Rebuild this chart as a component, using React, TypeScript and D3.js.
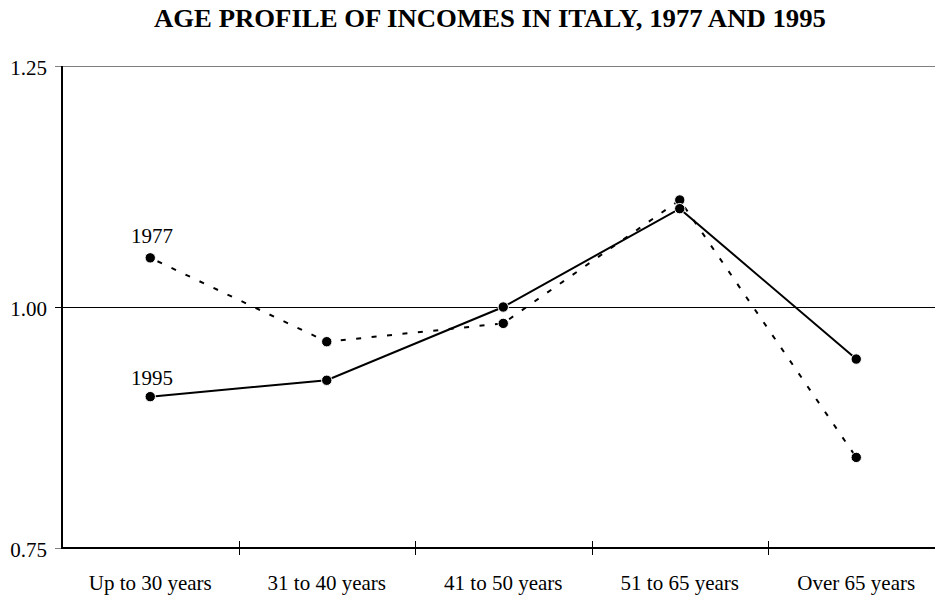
import React, { useEffect, useRef } from "react";
import * as d3 from "d3";

const categories = ["Up to 30 years", "31 to 40 years", "41 to 50 years", "51 to 65 years", "Over 65 years"];
const values1977 = [1.051, 0.964, 0.983, 1.111, 0.844];
const values1995 = [0.907, 0.924, 1.0, 1.102, 0.946];
const yTicks = [0.75, 1.0, 1.25];
const title = "AGE PROFILE OF INCOMES IN ITALY, 1977 AND 1995";

const W = 935;
const H = 595;
const FONT = "'Liberation Serif', 'Times New Roman', serif";

export default function App() {
  const ref = useRef<SVGSVGElement | null>(null);

  useEffect(() => {
    const svg = d3.select(ref.current);
    svg.selectAll("*").remove();

    const left = 62, right = 944.5, top = 66, bottom = 548;
    const x = d3.scaleBand<string>().domain(categories).range([left, right]).padding(0);
    const y = d3.scaleLinear().domain([0.75, 1.25]).range([bottom, top]);
    const cx = (c: string) => (x(c) as number) + x.bandwidth() / 2;

    svg.append("text")
      .attr("x", 490).attr("y", 27)
      .attr("text-anchor", "middle")
      .attr("font-family", FONT).attr("font-weight", "bold").attr("font-size", 26)
      .attr("textLength", 672).attr("lengthAdjust", "spacingAndGlyphs")
      .text(title);

    // top gridline (gray)
    svg.append("line").attr("x1", left - 7).attr("x2", W).attr("y1", y(1.25) + 0.5).attr("y2", y(1.25) + 0.5)
      .attr("stroke", "#808080").attr("stroke-width", 1).attr("shape-rendering", "crispEdges");
    // 1.00 reference line
    svg.append("line").attr("x1", left - 7).attr("x2", W).attr("y1", y(1.0) + 0.5).attr("y2", y(1.0) + 0.5)
      .attr("stroke", "#000").attr("stroke-width", 1).attr("shape-rendering", "crispEdges");
    // bottom tick at 0.75
    svg.append("line").attr("x1", left - 7).attr("x2", left).attr("y1", y(0.75) + 0.5).attr("y2", y(0.75) + 0.5)
      .attr("stroke", "#808080").attr("stroke-width", 1).attr("shape-rendering", "crispEdges");

    // y labels
    svg.selectAll("text.ylab").data(yTicks).enter().append("text")
      .attr("class", "ylab")
      .attr("x", 47).attr("y", (d) => y(d) + 8.5)
      .attr("text-anchor", "end")
      .attr("font-family", FONT).attr("font-size", 21)
      .text((d) => d3.format(".2f")(d));

    // left axis
    svg.append("line").attr("x1", left).attr("x2", left).attr("y1", top).attr("y2", bottom + 1)
      .attr("stroke", "#000").attr("stroke-width", 2);
    // bottom axis
    svg.append("line").attr("x1", left).attr("x2", W).attr("y1", bottom).attr("y2", bottom)
      .attr("stroke", "#000").attr("stroke-width", 2);

    // x ticks at category boundaries
    svg.selectAll("line.xtick").data(categories.slice(1)).enter().append("line")
      .attr("class", "xtick")
      .attr("x1", (d) => Math.round(x(d) as number) + 0.5).attr("x2", (d) => Math.round(x(d) as number) + 0.5)
      .attr("y1", bottom - 7).attr("y2", bottom + 7)
      .attr("stroke", "#000").attr("stroke-width", 1).attr("shape-rendering", "crispEdges");

    // x labels
    svg.selectAll("text.xlab").data(categories).enter().append("text")
      .attr("class", "xlab")
      .attr("x", (d) => cx(d)).attr("y", 590)
      .attr("text-anchor", "middle")
      .attr("font-family", FONT).attr("font-size", 21)
      .text((d) => d);

    const line = d3.line<number>().x((_, i) => cx(categories[i])).y((d) => y(d));

    svg.append("path").datum(values1977).attr("d", line).attr("fill", "none")
      .attr("stroke", "#000").attr("stroke-width", 2).attr("stroke-dasharray", "5,10.5")
      .attr("stroke-dashoffset", -8);
    svg.append("path").datum(values1995).attr("d", line).attr("fill", "none")
      .attr("stroke", "#000").attr("stroke-width", 2);

    [values1977, values1995].forEach((vals) => {
      svg.append("g").selectAll("circle").data(vals).enter().append("circle")
        .attr("cx", (_, i) => cx(categories[i])).attr("cy", (d) => y(d))
        .attr("r", 5.2).attr("fill", "#000").attr("stroke", "#fff").attr("stroke-width", 1);
    });

    svg.append("text").attr("x", 131).attr("y", y(values1977[0]) - 15)
      .attr("font-family", FONT).attr("font-size", 21).text("1977");
    svg.append("text").attr("x", 131).attr("y", y(values1995[0]) - 12)
      .attr("font-family", FONT).attr("font-size", 21).text("1995");
  }, []);

  return (
    <div style={{ position: "absolute", left: 0, top: 0 }}>
      <svg ref={ref} width={W} height={H} style={{ display: "block", background: "#fff" }} />
    </div>
  );
}
